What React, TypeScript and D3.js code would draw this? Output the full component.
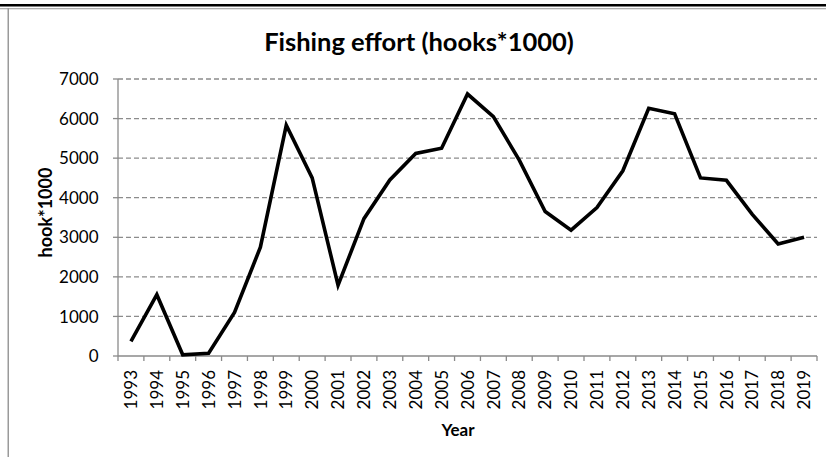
import React from "react";
import * as d3 from "d3";

const years: number[] = [
  1993, 1994, 1995, 1996, 1997, 1998, 1999, 2000, 2001, 2002, 2003, 2004, 2005, 2006,
  2007, 2008, 2009, 2010, 2011, 2012, 2013, 2014, 2015, 2016, 2017, 2018, 2019,
];
const effort: number[] = [
  370, 1550, 30, 70, 1100, 2750, 5830, 4500, 1790, 3470, 4450, 5120, 5250, 6620,
  6050, 4950, 3650, 3180, 3750, 4680, 6260, 6120, 4500, 4440, 3580, 2830, 3000,
];
const yTicks: number[] = [0, 1000, 2000, 3000, 4000, 5000, 6000, 7000];
const titleText = "Fishing effort (hooks*1000)";
const yTitle = "hook*1000";
const xTitle = "Year";

export default function App() {
  const W = 826;
  const H = 457;
  const left = 118;
  const right = 817;
  const top = 79;
  const bottom = 356;
  const font = "Lato, Carlito, Calibri, sans-serif";
  const axisColor = "#8a8a8a";

  const x = d3.scaleBand<number>().domain(years).range([left, right]).padding(0);
  const y = d3.scaleLinear().domain([0, 7000]).range([bottom, top]);
  const cx = (yr: number) => (x(yr) as number) + x.bandwidth() / 2;

  const lineGen = d3
    .line<number>()
    .x((_, i) => cx(years[i]))
    .y((d) => y(d));

  const tickXs = years.map((yr) => x(yr) as number).concat([right]);

  return (
    <svg
      width={W}
      height={H}
      style={{ position: "absolute", left: 0, top: 0, background: "#fff" }}
    >
      <rect x={0} y={0} width={W} height={H} fill="#fff" />
      {/* frame lines */}
      <rect x={0} y={4} width={W} height={2.5} fill="#000" />
      <rect x={0} y={8} width={W} height={1.3} fill="#b0b0b0" />
      <rect x={7.5} y={8} width={1.5} height={H - 8} fill="#9a9a9a" />

      {/* title */}
      <text
        x={419}
        y={51}
        textAnchor="middle"
        fontFamily={font}
        fontWeight="bold"
        fontSize={25.5}
        fill="#000"
      >
        {titleText}
      </text>

      {/* gridlines */}
      {yTicks
        .filter((t) => t > 0)
        .map((t) => (
          <line
            key={"g" + t}
            x1={left}
            x2={right}
            y1={y(t)}
            y2={y(t)}
            stroke="#8c8c8c"
            strokeWidth={1.3}
            strokeDasharray="5,3"
          />
        ))}

      {/* y axis */}
      <line x1={left} x2={left} y1={top} y2={bottom} stroke={axisColor} strokeWidth={1.3} />
      {yTicks.map((t) => (
        <g key={"yt" + t}>
          <line x1={left - 5} x2={left} y1={y(t)} y2={y(t)} stroke={axisColor} strokeWidth={1.3} />
          <text
            x={98.5}
            y={y(t)}
            dy="0.36em"
            textAnchor="end"
            fontFamily={font}
            fontSize={17}
            fill="#000"
          >
            {t}
          </text>
        </g>
      ))}

      {/* x axis */}
      <line x1={left} x2={right} y1={bottom} y2={bottom} stroke={axisColor} strokeWidth={1.3} />
      {tickXs.map((tx, i) => (
        <line
          key={"xt" + i}
          x1={tx}
          x2={tx}
          y1={bottom}
          y2={bottom + 5}
          stroke={axisColor}
          strokeWidth={1.3}
        />
      ))}
      {years.map((yr) => (
        <text
          key={"xl" + yr}
          transform={`translate(${cx(yr)},${370}) rotate(-90)`}
          textAnchor="end"
          dy="0.36em"
          fontFamily={font}
          fontSize={17}
          fill="#000"
        >
          {yr}
        </text>
      ))}

      {/* axis titles */}
      <text
        transform={`translate(52,${(top + bottom) / 2 - 5}) rotate(-90)`}
        textAnchor="middle"
        fontFamily={font}
        fontWeight="bold"
        fontSize={18}
        fill="#000"
      >
        {yTitle}
      </text>
      <text
        x={458}
        y={436}
        textAnchor="middle"
        fontFamily={font}
        fontWeight="bold"
        fontSize={17}
        fill="#000"
      >
        {xTitle}
      </text>

      {/* data line */}
      <path
        d={lineGen(effort) || ""}
        fill="none"
        stroke="#000"
        strokeWidth={3.6}
        strokeLinejoin="miter"
        strokeLinecap="butt"
      />
    </svg>
  );
}
